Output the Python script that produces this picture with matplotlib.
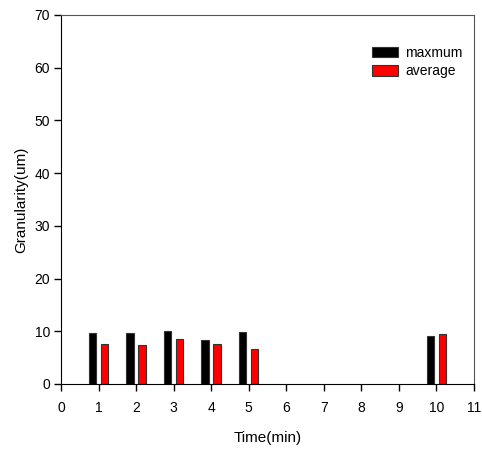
import matplotlib
matplotlib.use('Agg')
import matplotlib.pyplot as plt
import numpy as np

plt.rcParams['font.family'] = ['Liberation Sans', 'DejaVu Sans']

times = [1, 2, 3, 4, 5, 10]
maxmum = [9.6, 9.7, 10.1, 8.4, 9.9, 9.1]
average = [7.6, 7.4, 8.5, 7.6, 6.6, 9.5]

fig = plt.figure(figsize=(4.82, 4.5), dpi=100)
ax = fig.add_axes([0.1266, 0.1467, 0.8568, 0.82])

x = np.array(times)
w = 0.2
ax.bar(x - 0.16, maxmum, w, color='black', edgecolor='#333333', linewidth=0.8, label='maxmum')
ax.bar(x + 0.16, average, w, color='red', edgecolor='#333333', linewidth=0.8, label='average')

ax.set_xlim(0, 11)
ax.set_ylim(0, 70)
ax.set_xticks(range(0, 12))
ax.set_yticks(range(0, 71, 10))
ax.tick_params(direction='out', length=5, width=1, labelsize=10)
ax.tick_params(axis='x', pad=7)
ax.tick_params(axis='y', pad=3)
ax.spines['top'].set_color('#555555')
ax.spines['right'].set_color('#555555')
ax.spines['top'].set_linewidth(0.8)
ax.spines['right'].set_linewidth(0.8)
ax.set_xlabel('Time(min)', fontsize=11, labelpad=12)
ax.set_ylabel('Granularity(um)', fontsize=11, labelpad=4)

ax.legend(loc='upper left', bbox_to_anchor=(0.722, 0.95), frameon=False,
          fontsize=10, handlelength=1.9, handleheight=0.8, handletextpad=0.5,
          labelspacing=0.3)

fig.savefig('out.png', dpi=100)
